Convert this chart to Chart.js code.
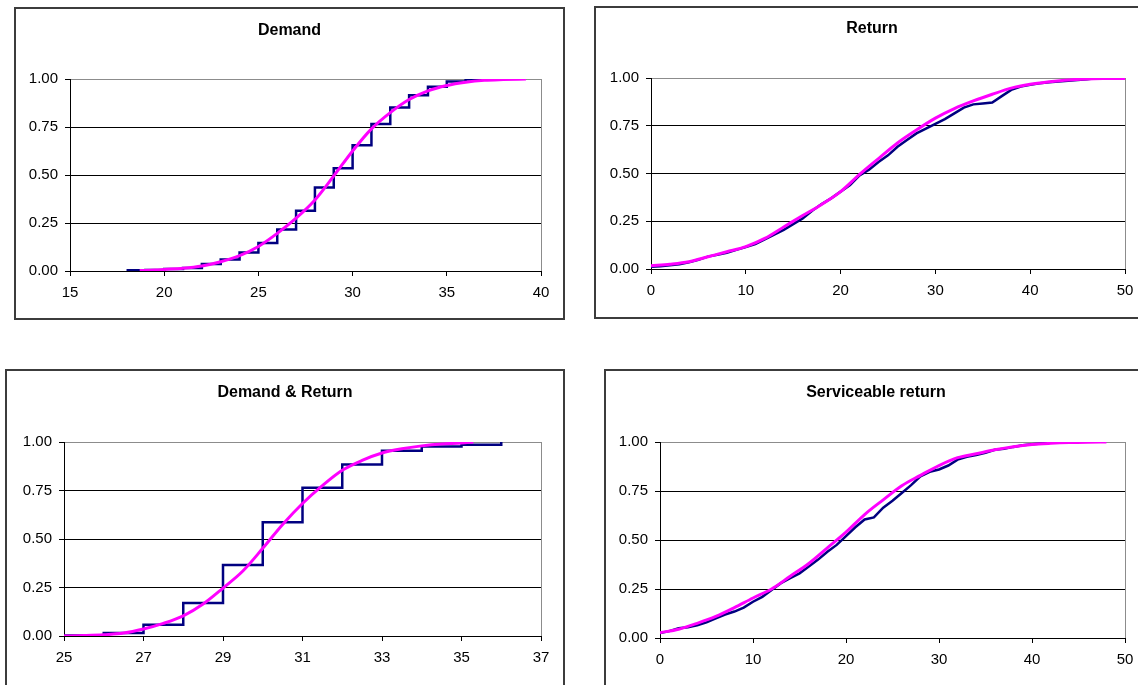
<!DOCTYPE html>
<html>
<head>
<meta charset="utf-8">
<script src="https://cdn.jsdelivr.net/npm/chart.js@4.4.1/dist/chart.umd.min.js"></script>
<style>
  html, body { margin: 0; padding: 0; background: #fff; width: 1138px; height: 685px; overflow: hidden; }
  .panel { position: absolute; box-sizing: border-box; border: 2px solid #3c3c3c; background: #fff; }
  .panel canvas { position: absolute; left: 0; top: 0; }
</style>
</head>
<body>
<div class="panel" id="p1"><canvas id="c1"></canvas></div>
<div class="panel" id="p2"><canvas id="c2"></canvas></div>
<div class="panel" id="p3"><canvas id="c3"></canvas></div>
<div class="panel" id="p4"><canvas id="c4"></canvas></div>
<script>
// ---- Demand: empirical (step) and fitted CDF ----
const demandEmpX = [18, 19, 20, 21, 22, 23, 24, 25, 26, 27, 28, 29, 30, 31, 32, 33, 34, 35, 36, 37];
const demandEmpY = [0.004, 0.005, 0.010, 0.016, 0.036, 0.060, 0.097, 0.146, 0.216, 0.314, 0.435, 0.535, 0.655, 0.765, 0.852, 0.916, 0.959, 0.987, 0.997, 1.000];
const demandFitX = [18.7, 19.5, 20, 21, 22, 23, 24, 25, 26, 27, 28, 29, 30, 31, 32, 33, 34, 35, 36, 37, 38, 39.2];
const demandFitY = [0.002, 0.005, 0.008, 0.014, 0.026, 0.048, 0.080, 0.128, 0.196, 0.275, 0.370, 0.495, 0.625, 0.740, 0.825, 0.893, 0.938, 0.966, 0.983, 0.993, 0.997, 1.000];

// ---- Return ----
const returnEmpX = [0, 1, 2, 3, 4, 5, 6, 7, 8, 9, 10, 11, 12, 13, 14, 15, 16, 17, 18, 19, 20, 21, 22, 23, 24, 25, 26, 27, 28, 29, 30, 31, 32, 33, 34, 35, 36, 37, 38, 39, 40, 41, 42, 43, 44, 45, 46, 47];
const returnEmpY = [0.012, 0.015, 0.020, 0.025, 0.035, 0.048, 0.065, 0.075, 0.085, 0.100, 0.115, 0.130, 0.155, 0.180, 0.205, 0.235, 0.265, 0.305, 0.340, 0.370, 0.405, 0.440, 0.490, 0.520, 0.560, 0.595, 0.640, 0.675, 0.710, 0.735, 0.760, 0.785, 0.815, 0.845, 0.862, 0.867, 0.872, 0.905, 0.938, 0.955, 0.965, 0.972, 0.978, 0.982, 0.986, 0.990, 0.993, 1.000];
const returnFitX = [0, 2, 4, 6, 8, 10, 12, 14, 16, 18, 20, 22, 24, 26, 28, 30, 32, 34, 36, 38, 40, 42, 44, 46, 48, 50];
const returnFitY = [0.017, 0.025, 0.038, 0.064, 0.090, 0.117, 0.160, 0.220, 0.280, 0.338, 0.405, 0.495, 0.578, 0.660, 0.728, 0.790, 0.840, 0.880, 0.915, 0.947, 0.967, 0.980, 0.990, 0.995, 0.997, 0.998];

// ---- Demand & Return ----
const netEmpX = [25, 26, 27, 28, 29, 30, 31, 32, 33, 34, 35, 36];
const netEmpY = [0.002, 0.015, 0.058, 0.170, 0.366, 0.586, 0.764, 0.884, 0.955, 0.977, 0.986, 1.000];
const netFitX = [25, 25.5, 26, 26.5, 27, 27.5, 28, 28.5, 29, 29.5, 30, 30.5, 31, 31.5, 32, 32.5, 33, 33.5, 34, 34.5, 35, 35.3];
const netFitY = [0.000, 0.002, 0.006, 0.015, 0.036, 0.065, 0.104, 0.165, 0.247, 0.335, 0.452, 0.575, 0.683, 0.775, 0.854, 0.905, 0.943, 0.965, 0.980, 0.990, 0.995, 1.000];

// ---- Serviceable return ----
const servEmpX = [0, 1, 2, 3, 4, 5, 6, 7, 8, 9, 10, 11, 12, 13, 14, 15, 16, 17, 18, 19, 20, 21, 22, 23, 24, 25, 26, 27, 28, 29, 30, 31, 32, 33, 34, 35, 36, 37, 38, 39, 40, 41, 42, 43];
const servEmpY = [0.025, 0.035, 0.050, 0.055, 0.065, 0.080, 0.100, 0.120, 0.135, 0.155, 0.185, 0.210, 0.245, 0.280, 0.305, 0.330, 0.365, 0.400, 0.440, 0.475, 0.520, 0.565, 0.605, 0.615, 0.665, 0.700, 0.740, 0.780, 0.825, 0.848, 0.860, 0.880, 0.910, 0.925, 0.933, 0.945, 0.960, 0.965, 0.975, 0.983, 0.988, 0.992, 0.996, 1.000];
const servFitX = [0, 2, 4, 6, 8, 10, 12, 14, 16, 18, 20, 22, 24, 26, 28, 30, 32, 34, 36, 38, 40, 42, 44, 46, 48];
const servFitY = [0.027, 0.045, 0.075, 0.110, 0.155, 0.204, 0.250, 0.315, 0.380, 0.460, 0.540, 0.630, 0.705, 0.777, 0.830, 0.880, 0.920, 0.940, 0.960, 0.976, 0.987, 0.993, 0.997, 0.999, 1.000];

// Y axis ticks shared by all panels
const yTicks = [0, 0.25, 0.5, 0.75, 1];

const NAVY = '#000080';
const MAGENTA = '#FF00FF';
const FONT = '"Liberation Sans", Arial, sans-serif';

function pts(xs, ys) { return xs.map((x, i) => ({ x: x, y: ys[i] })); }

// Grey plot-area frame on the right side (top edge comes from the 1.00 grid line)
const plotFrame = {
  id: 'plotFrame',
  beforeDatasetsDraw(chart) {
    const a = chart.chartArea, ctx = chart.ctx;
    ctx.save();
    ctx.strokeStyle = '#8c8c8c';
    ctx.lineWidth = 1;
    ctx.beginPath();
    ctx.moveTo(Math.round(a.right) + 0.5, a.top);
    ctx.lineTo(Math.round(a.right) + 0.5, a.bottom);
    ctx.stroke();
    ctx.restore();
  }
};

function buildPanel(n, box, plot, titleY, title, xr, emp, fit, stepped) {
  const div = document.getElementById('p' + n);
  div.style.left = box.l + 'px';
  div.style.top = box.t + 'px';
  div.style.width = (box.r - box.l) + 'px';
  div.style.height = (box.b - box.t) + 'px';
  const cx0 = box.l + 2, cy0 = box.t + 2;
  const cw = box.r - box.l - 4, ch = box.b - box.t - 4;
  const canvas = document.getElementById('c' + n);
  canvas.width = cw; canvas.height = ch;
  canvas.style.width = cw + 'px'; canvas.style.height = ch + 'px';

  const pL = plot.l - cx0, pR = plot.r - cx0, pT = plot.t - cy0, pB = plot.b - cy0;
  const side = cw - pR;
  const yW = pL - side;
  const xH = ch - pB;
  const tTop = (titleY - cy0) - 8;
  const tBot = pT - tTop - 16;

  new Chart(canvas, {
    type: 'scatter',
    data: {
      datasets: [
        { data: pts(fit[0], fit[1]), showLine: true, borderColor: MAGENTA, borderWidth: 3,
          pointRadius: 0, cubicInterpolationMode: 'monotone', order: 0 },
        { data: pts(emp[0], emp[1]), showLine: true, borderColor: NAVY, borderWidth: 2.5,
          pointRadius: 0, stepped: stepped, order: 1 }
      ]
    },
    options: {
      responsive: false,
      animation: false,
      devicePixelRatio: 1,
      layout: { padding: { left: side, right: side, top: 0, bottom: 0 } },
      plugins: {
        legend: { display: false },
        tooltip: { enabled: false },
        title: {
          display: true, text: title, color: '#000',
          font: { family: FONT, size: 16, weight: 'bold', lineHeight: 1 },
          padding: { top: tTop, bottom: tBot }
        }
      },
      scales: {
        x: {
          type: 'linear', min: xr[0], max: xr[1],
          afterBuildTicks: s => { s.ticks = xr[2].map(v => ({ value: v })); },
          afterFit: s => { s.height = xH; },
          grid: { display: true, drawOnChartArea: false, drawTicks: true, tickLength: 5, tickColor: '#000' },
          border: { display: true, color: '#000', width: 1 },
          ticks: { color: '#000', padding: 8, maxRotation: 0, autoSkip: false,
                   font: { family: FONT, size: 15 } }
        },
        y: {
          type: 'linear', min: 0, max: 1,
          afterBuildTicks: s => { s.ticks = yTicks.map(v => ({ value: v })); },
          afterFit: s => {
            s.width = yW;
            // labels sit in the margin to the left of the narrow axis box; do not clip them
            s._computeLabelArea = () => undefined;
          },
          grid: { display: true, drawOnChartArea: true, drawTicks: true, tickLength: 5,
                  color: c => (c.tick && c.tick.value === 1) ? '#8c8c8c' : '#000',
                  tickColor: '#000', lineWidth: 1 },
          border: { display: true, color: '#000', width: 1 },
          ticks: { color: '#000', padding: 7, callback: v => Number(v).toFixed(2),
                   font: { family: FONT, size: 15 } }
        }
      }
    },
    plugins: [plotFrame]
  });
}

buildPanel(1, { l: 14, t: 7, r: 565, b: 320 }, { l: 70, t: 79, r: 541, b: 271 }, 31, 'Demand',
  [15, 40, [15, 20, 25, 30, 35, 40]], [demandEmpX, demandEmpY], [demandFitX, demandFitY], true);
buildPanel(2, { l: 594, t: 6, r: 1150, b: 319 }, { l: 651, t: 78, r: 1125, b: 269 }, 29, 'Return',
  [0, 50, [0, 10, 20, 30, 40, 50]], [returnEmpX, returnEmpY], [returnFitX, returnFitY], false);
buildPanel(3, { l: 5, t: 369, r: 565, b: 700 }, { l: 64, t: 442, r: 541, b: 636 }, 393, 'Demand & Return',
  [25, 37, [25, 27, 29, 31, 33, 35, 37]], [netEmpX, netEmpY], [netFitX, netFitY], true);
buildPanel(4, { l: 604, t: 369, r: 1148, b: 700 }, { l: 660, t: 442, r: 1125, b: 638 }, 393, 'Serviceable return',
  [0, 50, [0, 10, 20, 30, 40, 50]], [servEmpX, servEmpY], [servFitX, servFitY], false);
</script>
</body>
</html>
